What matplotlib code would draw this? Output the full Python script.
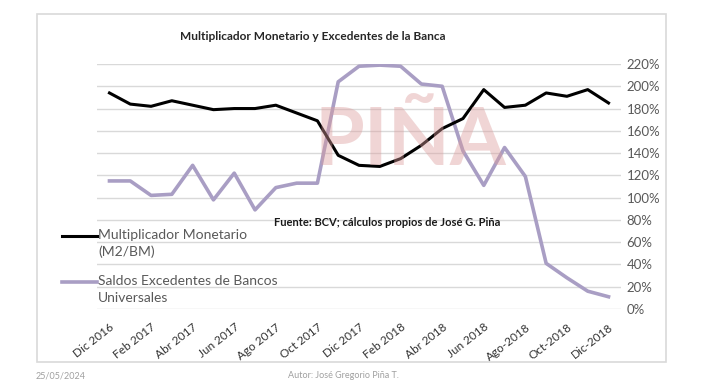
import matplotlib.pyplot as plt
from matplotlib.lines import Line2D
from matplotlib.patches import Rectangle
import numpy as np

plt.rcParams['font.family'] = ['Lato', 'DejaVu Sans']

# monthly, Dic 2016 .. Dic 2018 (values in %)
months = ["Dic 2016", "Ene 2017", "Feb 2017", "Mar 2017", "Abr 2017", "May 2017",
          "Jun 2017", "Jul 2017", "Ago 2017", "Sep 2017", "Oct 2017", "Nov 2017",
          "Dic 2017", "Ene 2018", "Feb 2018", "Mar 2018", "Abr 2018", "May 2018",
          "Jun 2018", "Jul-2018", "Ago-2018", "Sep-2018", "Oct-2018", "Nov-2018",
          "Dic-2018"]
multiplicador = [194, 184, 182, 187, 183, 179, 180, 180, 183, 176, 169, 138,
                 129, 128, 135, 147, 162, 171, 197, 181, 183, 194, 191, 197, 185]
excedentes = [115, 115, 102, 103, 129, 98, 122, 89, 109, 113, 113, 204,
              218, 219, 218, 202, 200, 142, 111, 145, 119, 41, 28, 16, 11]
yticks = list(range(0, 221, 20))

fig = plt.figure(figsize=(7.1, 3.92), dpi=100)
W, H = 710, 392

# outer chart border
fig.add_artist(Rectangle((37 / W, 1 - 362 / H), (666 - 37) / W, (362 - 14) / H,
                         transform=fig.transFigure, fill=False,
                         edgecolor='#d9d9d9', linewidth=1.2))

ax = fig.add_axes([97 / W, 1 - 309 / H, (621 - 97) / W, (309 - 64) / H])
x = np.arange(len(months))

ax.plot(x, multiplicador, color='black', linewidth=2.2, zorder=3)
ax.plot(x, excedentes, color='#a99ec4', linewidth=2.6, zorder=2)

ax.set_xlim(-0.6, len(months) - 0.4)
ax.set_ylim(0, 220)
ax.set_yticks(yticks)
ax.set_yticklabels([f"{v}%" for v in yticks])
ax.yaxis.tick_right()
ax.tick_params(axis='y', length=0, pad=4, labelsize=9.5, labelcolor='#595959')
ax.grid(axis='y', color='#d9d9d9', linewidth=1)
ax.set_axisbelow(True)
for s in ax.spines.values():
    s.set_visible(False)

ax.set_xticks(x[::2])
ax.set_xticklabels(months[::2], rotation=38, ha='right', rotation_mode='anchor',
                   fontsize=8.5, color='#333333')
ax.tick_params(axis='x', length=0, pad=9)

# watermark
fig.text(410 / W, 1 - 142 / H, "PIÑA", fontsize=58, fontweight='bold',
         color='#dc9d9d', alpha=0.42, ha='center', va='center', zorder=10)

fig.text(313 / W, 1 - 37 / H, "Multiplicador Monetario y Excedentes de la Banca",
         fontsize=8.6, fontweight='bold', color='#262626', ha='center', va='center')
fig.text(387 / W, 1 - 223 / H, "Fuente: BCV; cálculos propios de José G. Piña",
         fontsize=8, fontweight='bold', color='#1a1a1a', ha='center', va='center')

# legend
for yl, col, lw, label in [(236, 'black', 2.2, "Multiplicador Monetario\n(M2/BM)"),
                           (282, '#a99ec4', 2.6, "Saldos Excedentes de Bancos\nUniversales")]:
    fig.add_artist(Line2D([62 / W, 97 / W], [1 - yl / H, 1 - yl / H], color=col,
                          linewidth=lw, transform=fig.transFigure))
    fig.text(98 / W, 1 - (yl - 7) / H, label, fontsize=10, color='#595959',
             ha='left', va='top', linespacing=1.45)

fig.text(36 / W, 1 - 376 / H, "25/05/2024", fontsize=6.5, color='#a0a0a0',
         ha='left', va='center')
fig.text(343 / W, 1 - 376 / H, "Autor: José Gregorio Piña T.", fontsize=6.5,
         color='#a0a0a0', ha='center', va='center')

fig.savefig("out.png", dpi=100)
